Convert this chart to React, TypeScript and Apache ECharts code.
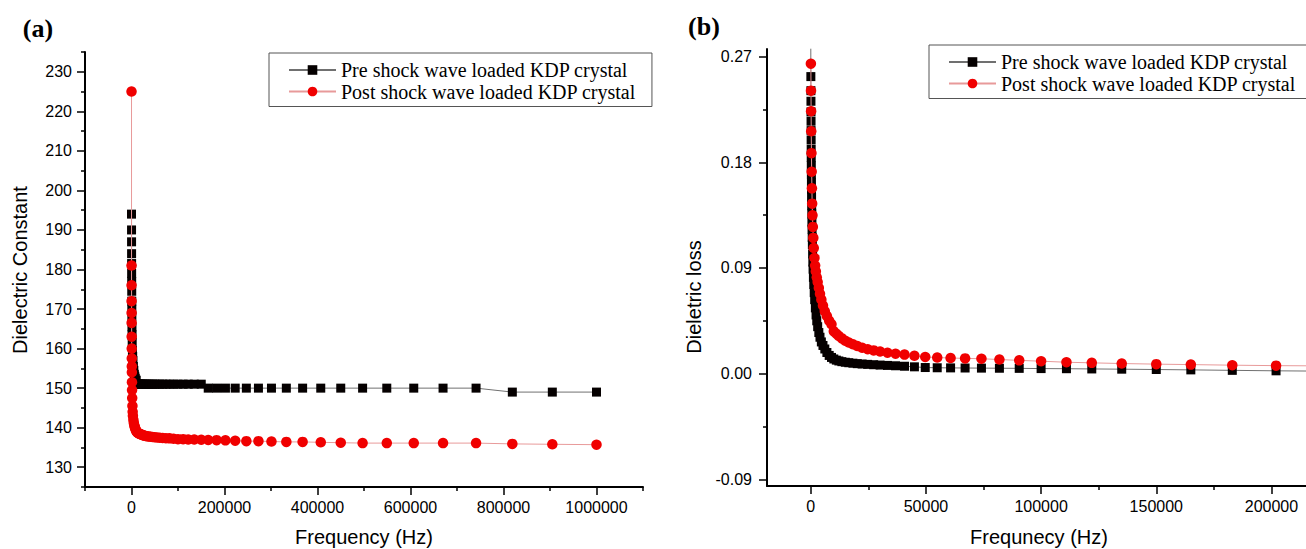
import React, { useEffect, useRef } from 'react';
import * as echarts from 'echarts';

const NAME_PRE = 'Pre shock wave loaded KDP crystal';
const NAME_POST = 'Post shock wave loaded KDP crystal';

// shared high-frequency points (Hz)
const FREQ_HIGH = [10000, 11100, 12200, 13500, 15000, 16500, 18300, 20200, 22300, 24700, 27300, 30100, 33300, 36800, 40700, 45000, 49700, 54900, 60700, 67000, 74100, 81900, 90500, 100000, 111000, 122000, 135000, 150000, 165000, 183000, 202000, 223000, 247000, 273000, 301000, 333000, 368000, 407000, 450000, 497000, 549000, 607000, 670000, 741000, 819000, 905000, 1000000];

// (a) dielectric constant
const FREQ_LOW_A = [50, 100, 150, 200, 250, 300, 400, 500, 600, 700, 800, 1000, 1200, 1500, 2000, 2500, 3000, 4000, 5000, 6000, 7000, 8000, 9000];
const PRE_CONST_LOW = [194, 190, 187, 184, 181.5, 179, 177, 174.5, 172, 170, 168, 165.5, 163.5, 161.5, 159.5, 158, 157, 155.5, 154.5, 153.5, 153, 152.5, 152];
const PRE_CONST_HIGH = [152, 151, 151, 151, 151, 151, 151, 151, 151, 151, 151, 151, 151, 151, 151, 151, 151, 151, 151, 151, 151, 151, 151, 151, 151, 151, 151, 151, 150, 150, 150, 150, 150, 150, 150, 150, 150, 150, 150, 150, 150, 150, 150, 150, 149, 149, 149];
const POST_CONST_LOW = [225, 181, 176, 172, 169, 166.5, 163, 160, 157.5, 155.5, 154, 151.5, 149.5, 147.5, 145.5, 144, 143, 142, 141.2, 140.6, 140.2, 139.8, 139.5];
const POST_CONST_HIGH = [139.2, 139.0, 138.8, 138.7, 138.6, 138.5, 138.4, 138.3, 138.2, 138.1, 138.0, 137.9, 137.85, 137.8, 137.7, 137.65, 137.6, 137.5, 137.45, 137.4, 137.35, 137.3, 137.2, 137.1, 137.1, 137.0, 137.0, 136.95, 136.9, 136.85, 136.8, 136.7, 136.6, 136.6, 136.5, 136.4, 136.4, 136.3, 136.2, 136.1, 136.1, 136.1, 136.1, 136.1, 135.9, 135.8, 135.7];

// (b) dielectric loss
const PRE_FREQ_LOW_B = [20, 40, 60, 80, 100, 120, 140, 160, 180, 200, 230, 260, 290, 320, 350, 400, 450, 500, 560, 630, 700, 800, 900, 1000, 1150, 1300, 1500, 1700, 2000, 2300, 2600, 3000, 3500, 4000, 4600, 5300, 6100, 7000, 8000, 9000];
const PRE_LOSS_LOW = [0.277, 0.253, 0.241, 0.232, 0.223, 0.215, 0.207, 0.199, 0.191, 0.184, 0.177, 0.170, 0.163, 0.157, 0.150, 0.143, 0.136, 0.129, 0.123, 0.116, 0.110, 0.102, 0.095, 0.089, 0.082, 0.076, 0.069, 0.063, 0.056, 0.050, 0.045, 0.040, 0.035, 0.031, 0.027, 0.024, 0.021, 0.018, 0.0155, 0.0138];
const PRE_LOSS_HIGH = [0.0125, 0.0115, 0.0108, 0.0102, 0.0097, 0.0093, 0.0089, 0.0085, 0.0082, 0.0079, 0.0076, 0.0073, 0.007, 0.0067, 0.0063, 0.0058, 0.0052, 0.005, 0.0049, 0.0048, 0.0047, 0.0046, 0.0045, 0.0043, 0.0042, 0.004, 0.0038, 0.0035, 0.0032, 0.0028, 0.0024, 0.0021];
const POST_FREQ_LOW_B = [50, 100, 150, 200, 300, 400, 500, 600, 750, 900, 1100, 1300, 1600, 1900, 2200, 2600, 3000, 3500, 4000, 4600, 5300, 6100, 7000, 8000, 9000];
const POST_LOSS_LOW = [0.264, 0.241, 0.2235, 0.2064, 0.1878, 0.172, 0.1578, 0.1448, 0.1348, 0.125, 0.1156, 0.107, 0.0985, 0.092, 0.087, 0.082, 0.078, 0.073, 0.068, 0.063, 0.058, 0.053, 0.049, 0.045, 0.042];
const POST_LOSS_HIGH = [0.036, 0.034, 0.032, 0.030, 0.028, 0.0265, 0.025, 0.0235, 0.022, 0.0208, 0.0198, 0.0188, 0.0178, 0.017, 0.0162, 0.0152, 0.0142, 0.0137, 0.0133, 0.013, 0.0127, 0.012, 0.0113, 0.0106, 0.0097, 0.0092, 0.0086, 0.0081, 0.0077, 0.0072, 0.0068, 0.0066];

// axis ticks
const X_MAJOR_A = [0, 200000, 400000, 600000, 800000, 1000000];
const X_MINOR_A = [-100000, 100000, 300000, 500000, 700000, 900000, 1100000];
const Y_MAJOR_A = [130, 140, 150, 160, 170, 180, 190, 200, 210, 220, 230];
const Y_MINOR_A = [125, 135, 145, 155, 165, 175, 185, 195, 205, 215, 225, 235];
const X_MAJOR_B = [0, 50000, 100000, 150000, 200000];
const X_MINOR_B = [25000, 75000, 125000, 175000];
const Y_MAJOR_B = [-0.09, 0, 0.09, 0.18, 0.27];
const Y_MINOR_B = [-0.045, 0.045, 0.135, 0.225];

function pairs(f: number[], v: number[]) {
  return v.map((y, i) => [f[i], y]);
}

const SANS = "'Liberation Sans', Arial, sans-serif";
const SERIF = "'Liberation Serif', 'Times New Roman', serif";

function majorAxis(grid: number, min: number, max: number, values: number[], position: string, fmt: (v: number) => string, margin: number) {
  return {
    type: 'value', gridIndex: grid, min, max, position,
    axisLine: { show: true, onZero: false, lineStyle: { color: '#000', width: 2 } },
    axisTick: { show: true, inside: false, length: 8, customValues: values, lineStyle: { color: '#000', width: 1.5 } },
    axisLabel: { show: true, customValues: values, formatter: fmt, color: '#000', fontFamily: SANS, fontSize: 16, margin },
    splitLine: { show: false },
  };
}
function minorAxis(grid: number, min: number, max: number, values: number[], position: string) {
  return {
    type: 'value', gridIndex: grid, min, max, position,
    axisLine: { show: false, onZero: false },
    axisTick: { show: true, inside: false, length: 4, customValues: values, lineStyle: { color: '#000', width: 1.5 } },
    axisLabel: { show: false },
    splitLine: { show: false },
  };
}

function preSeries(x: number, y: number, data: number[][]) {
  return {
    type: 'line', name: NAME_PRE, xAxisIndex: x, yAxisIndex: y, data,
    symbol: 'rect', symbolSize: 9, showSymbol: true, silent: true,
    itemStyle: { color: '#050000' },
    lineStyle: { color: '#707070', width: 1 },
    z: 2,
  };
}
function postSeries(x: number, y: number, data: number[][]) {
  return {
    type: 'line', name: NAME_POST, xAxisIndex: x, yAxisIndex: y, data,
    symbol: 'circle', symbolSize: 10.5, showSymbol: true, silent: true,
    itemStyle: { color: '#f00000' },
    lineStyle: { color: '#e89a9a', width: 1 },
    z: 3,
  };
}

function legend(left: number, top: number) {
  return {
    left, top, orient: 'vertical', data: [NAME_PRE, NAME_POST],
    itemWidth: 47, itemHeight: 12, itemGap: 1.5,
    padding: [7, 16, 5, 19],
    borderColor: '#555', borderWidth: 1,
    textStyle: { fontFamily: SERIF, fontSize: 20, color: '#000' },
    selectedMode: false,
  };
}

function label(text: string, x: number, y: number, rot: number, font: string) {
  return {
    type: 'text', x, y, rotation: rot, silent: true,
    style: { text, font, fill: '#000', textAlign: 'center', textVerticalAlign: 'middle', align: 'center', verticalAlign: 'middle' },
  };
}

export default function App() {
  const ref = useRef<HTMLDivElement>(null);
  useEffect(() => {
    const chart = echarts.init(ref.current!, null, { renderer: 'svg' });
    const preA = pairs(FREQ_LOW_A, PRE_CONST_LOW).concat(pairs(FREQ_HIGH, PRE_CONST_HIGH));
    const postA = pairs(FREQ_LOW_A, POST_CONST_LOW).concat(pairs(FREQ_HIGH, POST_CONST_HIGH));
    const preB = pairs(PRE_FREQ_LOW_B, PRE_LOSS_LOW).concat(pairs(FREQ_HIGH, PRE_LOSS_HIGH));
    const postB = pairs(POST_FREQ_LOW_B, POST_LOSS_LOW).concat(pairs(FREQ_HIGH, POST_LOSS_HIGH));
    const intFmt = (v: number) => String(Math.round(v));
    const decFmt = (v: number) => v.toFixed(2);
    chart.setOption({
      animation: false,
      backgroundColor: '#fff',
      grid: [
        { left: 85, top: 52, width: 558, height: 435 },
        { left: 767, top: 49, width: 539, height: 437 },
      ],
      xAxis: [
        majorAxis(0, -100000, 1100000, X_MAJOR_A, 'bottom', intFmt, 12),
        minorAxis(0, -100000, 1100000, X_MINOR_A, 'bottom'),
        majorAxis(1, -19000, 215000, X_MAJOR_B, 'bottom', intFmt, 12),
        minorAxis(1, -19000, 215000, X_MINOR_B, 'bottom'),
      ],
      yAxis: [
        majorAxis(0, 125, 235, Y_MAJOR_A, 'left', intFmt, 13),
        minorAxis(0, 125, 235, Y_MINOR_A, 'left'),
        majorAxis(1, -0.0957, 0.2765, Y_MAJOR_B, 'left', decFmt, 15),
        minorAxis(1, -0.0957, 0.2765, Y_MINOR_B, 'left'),
      ],
      legend: [legend(269, 53), legend(929, 45)],
      series: [
        preSeries(0, 0, preA),
        postSeries(0, 0, postA),
        preSeries(2, 2, preB),
        postSeries(2, 2, postB),
      ],
      graphic: [
        label('(a)', 38, 28, 0, `bold 26px ${SERIF}`),
        label('(b)', 704, 26, 0, `bold 26px ${SERIF}`),
        label('Dielectric Constant', 20, 270, Math.PI / 2, `20px ${SANS}`),
        label('Dieletric loss', 694, 297, Math.PI / 2, `20px ${SANS}`),
        label('Frequency (Hz)', 364, 537, 0, `20px ${SANS}`),
        label('Frequnecy (Hz)', 1039, 537, 0, `20px ${SANS}`),
      ],
    });
    return () => chart.dispose();
  }, []);
  return (
    <div
      ref={ref}
      style={{ position: 'fixed', left: 0, top: 0, width: 1306, height: 549, background: '#fff' }}
    />
  );
}
